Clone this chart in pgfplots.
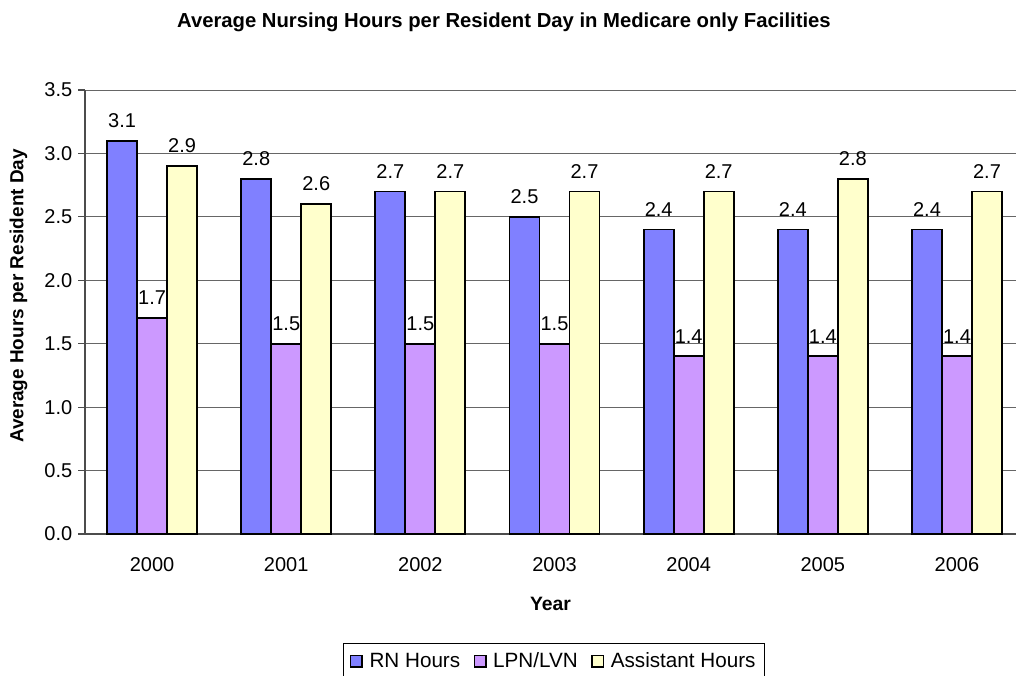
\documentclass[border=0pt]{standalone}
\usepackage{pgfplots}
\pgfplotsset{compat=1.18}
\usepackage{fontspec}
\setmainfont{Liberation Sans}
\definecolor{rn}{HTML}{8080FF}
\definecolor{lpn}{HTML}{CC99FF}
\definecolor{ast}{HTML}{FFFFCC}
\begin{document}
\begin{tikzpicture}
\begin{axis}[
  at={(0,0)}, anchor=south west,
  scale only axis,
  width=698.25pt, height=333pt,
  xmin=-0.5, xmax=6.44,
  ymin=0, ymax=3.5,
  ytick={0,0.5,...,3.5},
  /pgf/number format/assume math mode=true,
  yticklabel style={/pgf/number format/fixed, /pgf/number format/fixed zerofill, /pgf/number format/precision=1, xshift=-1pt},
  ybar, bar width=22.5pt,
  xtick={0,...,6},
  xticklabels={2000,2001,2002,2003,2004,2005,2006},
  extra x ticks={-0.5,0.5,1.5,2.5,3.5,4.5,5.5},
  extra x tick labels={},
  extra x tick style={major tick length=5pt, tick style={black!70, line width=0.8pt}},
  major x tick style={draw=none},
  axis x line*=bottom, axis y line*=left,
  axis line style={black!70, line width=0.8pt},
  ytick style={black!70, line width=0.8pt},
  tick align=outside, major tick length=5pt,
  ymajorgrids, grid style={black!60, line width=0.7pt},
  tick label style={font=\fontsize{15}{17}\selectfont},
  xticklabel style={yshift=-9pt},
  xlabel={\bfseries Year},
  xlabel style={font=\fontsize{14.5}{17}\selectfont, yshift=-2pt},
  ylabel={\bfseries Average Hours per Resident Day},
  ylabel style={font=\fontsize{14.2}{17}\selectfont, yshift=6pt, xshift=12pt},
  nodes near coords,
  nodes near coords style={font=\fontsize{15}{17}\selectfont, black, /pgf/number format/fixed, /pgf/number format/fixed zerofill, /pgf/number format/precision=1, /pgf/number format/assume math mode=true},
  every node near coord/.append style={yshift=6pt},
  legend columns=3,
  legend style={at={(0.5038,-0.2455)}, anchor=north, draw=black, line width=0.8pt,
     font=\fontsize{15.5}{17}\selectfont, inner xsep=5pt, inner ysep=5pt,
     /tikz/every odd column/.append style={column sep=3pt},
     /tikz/every even column/.append style={column sep=8pt}},
  legend image code/.code={\draw[#1, line width=1.2pt] (0cm,-0.15cm) rectangle (0.3cm,0.15cm);},
  clip=false,
]
\addplot[fill=rn, draw=black, line width=1.4pt, bar shift=-22.5pt] coordinates {(0,3.1) (1,2.8) (2,2.7) (3,2.5) (4,2.4) (5,2.4) (6,2.4)};
\addplot[fill=lpn, draw=black, line width=1.4pt, bar shift=0pt] coordinates {(0,1.7) (1,1.5) (2,1.5) (3,1.5) (4,1.4) (5,1.4) (6,1.4)};
\addplot[fill=ast, draw=black, line width=1.4pt, bar shift=22.5pt] coordinates {(0,2.9) (1,2.6) (2,2.7) (3,2.7) (4,2.7) (5,2.8) (6,2.7)};
\legend{RN Hours,LPN/LVN,Assistant Hours}
\node[font=\bfseries\fontsize{15.2}{17}\selectfont, anchor=center] at (rel axis cs:0.45,1) [yshift=51pt] {Average Nursing Hours per Resident Day in Medicare only Facilities};
\end{axis}
\pgfresetboundingbox
\useasboundingbox (-63.75pt,-105.75pt) rectangle (698.25pt,400.5pt);
\end{tikzpicture}
\end{document}
